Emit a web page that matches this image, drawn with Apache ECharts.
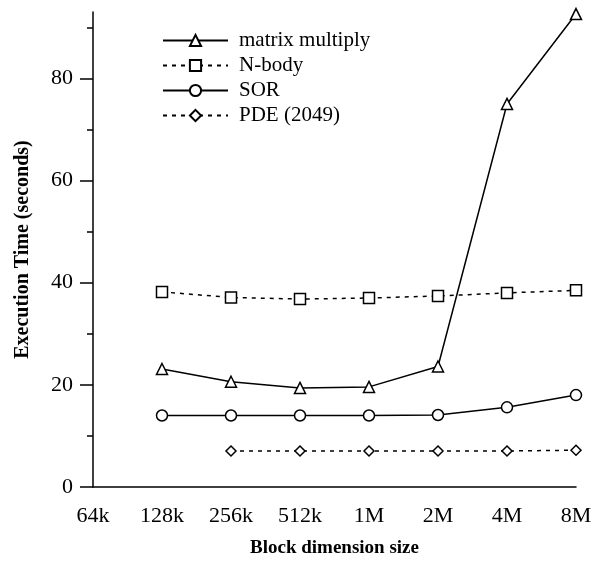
<!DOCTYPE html>
<html>
<head>
<meta charset="utf-8">
<script src="https://cdn.jsdelivr.net/npm/echarts@6/dist/echarts.min.js"></script>
<style>
html,body{margin:0;padding:0;background:#fff;}
#chart{width:603px;height:563px;}
</style>
</head>
<body>
<div id="chart"></div>
<script>
var categories = ['64k','128k','256k','512k','1M','2M','4M','8M'];
var matrixMultiply = [null, 23.1, 20.6, 19.4, 19.6, 23.6, 75.0, 92.6];
var nBody = [null, 38.2, 37.1, 36.8, 37.0, 37.4, 38.0, 38.5];
var sor = [null, 14.0, 14.0, 14.0, 14.0, 14.1, 15.6, 18.0];
var pde = [null, null, 7.05, 7.05, 7.05, 7.05, 7.05, 7.2];
var yMajorTicks = [0, 20, 40, 60, 80];
var yMinorTicks = [10, 30, 50, 70, 90];

var FONT = 'Liberation Serif';
var chart = echarts.init(document.getElementById('chart'));

function mkSeries(name, data, symbol, size, dashed) {
  return {
    name: name,
    type: 'line',
    data: data,
    yAxisIndex: 0,
    symbol: symbol,
    symbolSize: size,
    showAllSymbol: true,
    connectNulls: false,
    animation: false,
    itemStyle: { color: '#fff', borderColor: '#000', borderWidth: 1.5 },
    lineStyle: { color: '#000', width: 1.5, type: dashed ? [4, 5] : 'solid' },
    emphasis: { disabled: true }
  };
}

chart.setOption({
  animation: false,
  backgroundColor: '#fff',
  grid: { left: 93, right: 27, top: 12, bottom: 73, containLabel: false },
  legend: {
    orient: 'vertical',
    left: 162,
    top: 30,
    padding: 0,
    itemWidth: 65,
    itemHeight: 14,
    itemGap: 4,
    textStyle: { fontFamily: FONT, fontSize: 21, color: '#000', padding: [0, 0, 0, 6] },
    data: ['matrix multiply', 'N-body', 'SOR', 'PDE (2049)']
  },
  xAxis: {
    type: 'category',
    data: categories,
    boundaryGap: false,
    axisLine: { lineStyle: { color: '#000', width: 1.5 } },
    axisTick: { show: false },
    axisLabel: { fontFamily: FONT, fontSize: 22, color: '#000', margin: 18, interval: 0 },
    splitLine: { show: false },
    name: 'Block dimension size',
    nameLocation: 'middle',
    nameGap: 52,
    nameTextStyle: { fontFamily: FONT, fontSize: 19, fontWeight: 'bold', color: '#000' }
  },
  yAxis: [
    {
      type: 'value',
      min: 0,
      max: 93,
      interval: 10,
      axisLine: { show: true, lineStyle: { color: '#000', width: 1.5 } },
      axisTick: { show: true, length: 13, lineStyle: { color: '#000', width: 1.5 }, customValues: yMajorTicks },
      axisLabel: { fontFamily: FONT, fontSize: 22, color: '#000', margin: 20, customValues: yMajorTicks },
      splitLine: { show: false },
      name: 'Execution Time (seconds)',
      nameLocation: 'middle',
      nameGap: 60,
      nameTextStyle: { fontFamily: FONT, fontSize: 20, fontWeight: 'bold', color: '#000' }
    },
    {
      type: 'value',
      position: 'left',
      min: 0,
      max: 93,
      interval: 10,
      axisLine: { show: false },
      axisTick: { show: true, length: 6, lineStyle: { color: '#000', width: 1.5 }, customValues: yMinorTicks },
      axisLabel: { show: false },
      splitLine: { show: false }
    }
  ],
  series: [
    mkSeries('matrix multiply', matrixMultiply, 'triangle', 11, false),
    mkSeries('N-body', nBody, 'rect', 11, true),
    mkSeries('SOR', sor, 'circle', 11, false),
    mkSeries('PDE (2049)', pde, 'diamond', 10, true)
  ]
});
</script>
</body>
</html>
